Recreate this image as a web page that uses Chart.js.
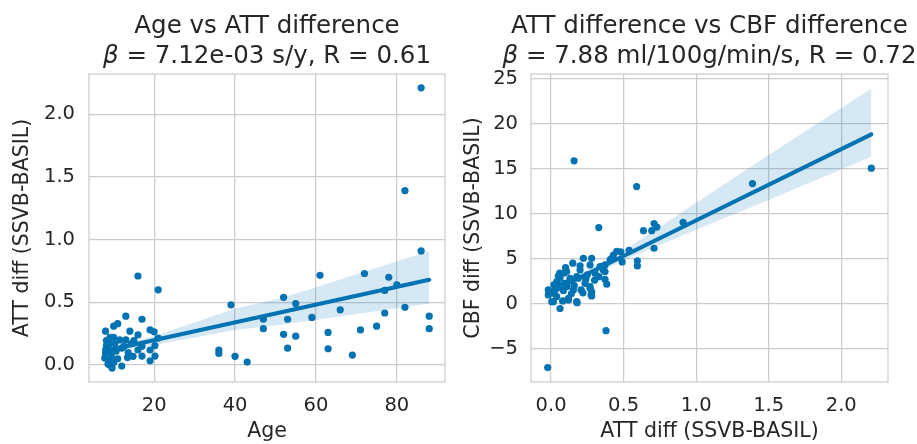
<!DOCTYPE html>
<html><head><meta charset="utf-8">
<script src="https://cdn.jsdelivr.net/npm/chart.js@4"></script>
<style>
html,body{margin:0;padding:0;background:#fff;}
#wrap{position:relative;width:917px;height:444px;overflow:hidden;background:#fff;}
.box{position:absolute;top:0;height:444px;}
</style></head><body>
<div id="wrap">
<div class="box" style="left:0;width:460px"><canvas id="c1"></canvas></div>
<div class="box" style="left:460px;width:457px"><canvas id="c2"></canvas></div>
</div>
<script>
// ---------- data ----------
const ages = [16,21,13,17,11,10,8,14,19,20,16,10,13,15,21,8.2,10.3,12,14.4,17,20.2,8.2,10,13.6,16,19,7.8,9.5,13.4,14.8,17,19,20.2,8.6,9.6,12,9.1,8.2,9.1,8,8.5,9,9.5,10.6,11,12.5,11.5,8,9,10,
  36,36,39,40,43,47,47,52,52,53,53,55,55,59,61,63,63,66,69,71,72,75,77,77,78,80,82,82,86,86,88,88];
const attVsAge = [0.71,0.60,0.39,0.365,0.33,0.31,0.27,0.27,0.28,0.265,0.24,0.22,0.20,0.195,0.215,0.155,0.17,0.135,0.17,0.15,0.155,0.115,0.115,0.10,0.12,0.12,0.056,0.06,0.06,0.07,0.072,0.034,0.072,0.008,-0.024,-0.008,0.034,0.195,0.22,0.09,0.14,0.17,0.10,0.11,0.05,0.15,0.2,0.12,0.0,0.02,
  0.12,0.093,0.48,0.07,0.024,0.365,0.29,0.54,0.245,0.365,0.135,0.49,0.23,0.38,0.715,0.26,0.13,0.44,0.08,0.28,0.73,0.31,0.415,0.595,0.70,0.64,0.46,1.39,2.21,0.91,0.39,0.29];

const attDiff = [0.159,0.59,0.329,0.379,-0.023,0.637,0.694,0.71,0.729,0.91,0.71,0.595,0.595,0.538,0.453,0.48,0.49,1.388,2.207,0.223,0.28,0.15,0.35,0.108,0.2,0.05,0.062,0.131,0.177,0.039,0.097,0.234,0.269,-0.019,0.028,0.085,0.154,0.28,-0.019,0.039,0.12,0.177,0.28,0.016,0.062,0.372,0.384,0.372,0.407,0.418,0.372,0.36,0.18,0.09,0.269,0.269,0.207,0.188,0.131,0.016,0.0,0.005,0.12,0.303,0.338,0.276,0.07,0.11,0.24,0.3,0.05,0.14,0.22,0.08,0.25,0.02,0.16,0.43,0.33,0.2,0.1,0.06];
const cbfDiff = [15.86,13.0,8.45,-3.0,-7.1,8.1,8.1,8.9,8.5,9.04,6.15,4.75,4.19,5.92,5.82,5.76,4.63,13.33,15.04,5.04,5.04,4.49,4.11,3.56,3.74,3.07,2.82,2.82,3.0,2.44,2.26,2.26,1.89,1.52,1.52,1.44,1.52,1.33,0.97,0.78,0.6,0.22,0.86,0.22,-0.55,2.71,2.16,3.56,4.86,5.04,4.3,3.74,0.11,3.4,4.3,1.71,1.52,2.82,2.63,1.16,1.3,0.22,0.41,3.38,4.11,0.97,2.0,1.9,2.7,2.6,1.8,1.1,1.2,0.3,3.2,2.1,2.0,5.4,3.0,4.2,4.0,3.4];

// regression lines and confidence bands
const fitAgeX = [7.8, 88];
const fitAgeY = [0.112, 0.68];
const bandAgeX = [7.8, 20, 40, 51, 60, 88];
const bandAgeUpper = [0.13, 0.23, 0.45, 0.53, 0.62, 0.91];
const bandAgeLower = [0.095, 0.16, 0.28, 0.32, 0.36, 0.49];

const fitAttX = [-0.023, 2.207];
const fitAttY = [1.16, 18.8];
const bandAttX = [-0.023, 0.25, 0.5, 0.75, 1.0, 1.5, 2.207];
const bandAttUpper = [1.6, 3.7, 5.9, 8.5, 11.2, 16.5, 23.9];
const bandAttLower = [0.7, 3.0, 4.8, 6.5, 8.2, 11.5, 16.3];

// ticks
const ticksAge = [20, 40, 60, 80];
const ticksAttLeft = [0, 0.5, 1, 1.5, 2];
const ticksAttRight = [0, 0.5, 1, 1.5, 2];
const ticksCbf = [-5, 0, 5, 10, 15, 20, 25];

// ---------- styling ----------
const BLUE = '#0173b2';
const BAND = 'rgba(1,115,178,0.16)';
const GRID = '#cccccc';
const TXT = '#262626';
const FONT = '"DejaVu Sans", sans-serif';
const TICK_FS = 19.5, LABEL_FS = 20.5, TITLE_FS = 24.5;

const zip = (xs, ys) => xs.map((x, i) => ({x, y: ys[i]}));

const framePlugin = {
  id: 'frame',
  afterDraw(chart) {
    const {ctx, chartArea: a} = chart;
    ctx.save();
    ctx.strokeStyle = GRID; ctx.lineWidth = 1.25;
    ctx.strokeRect(a.left, a.top, a.right - a.left, a.bottom - a.top);
    ctx.restore();
  }
};
const titlePlugin = {
  id: 'twoLineTitle',
  afterDraw(chart, args, opts) {
    const {ctx, chartArea: a} = chart;
    const cx = (a.left + a.right) / 2;
    ctx.save();
    ctx.fillStyle = TXT; ctx.textBaseline = 'alphabetic';
    const normal = `${TITLE_FS}px ${FONT}`, ital = `italic ${TITLE_FS}px ${FONT}`;
    ctx.font = normal; ctx.textAlign = 'center';
    ctx.fillText(opts.line1, cx, 33);
    ctx.textAlign = 'left';
    ctx.font = ital; const w1 = ctx.measureText('β').width;
    ctx.font = normal; const w2 = ctx.measureText(opts.line2).width;
    let x = cx - (w1 + w2) / 2;
    ctx.font = ital; ctx.fillText('β', x, 63);
    ctx.font = normal; ctx.fillText(opts.line2, x + w1, 63);
    ctx.restore();
  }
};

function axis(min, max, ticks, fmt, title, isX, pad, size, titlePad) {
  return {
    type: 'linear', min, max,
    afterBuildTicks: s => { s.ticks = ticks.map(v => ({value: v})); },
    afterFit: s => { if (isX) s.height = size; else s.width = size; },
    grid: {color: GRID, lineWidth: 1.25, drawTicks: false},
    border: {display: false},
    ticks: {color: TXT, font: {family: FONT, size: TICK_FS}, padding: pad, callback: v => fmt(v), maxRotation: 0, autoSkip: false},
    title: {display: true, text: title, color: TXT, font: {family: FONT, size: LABEL_FS}, padding: titlePad}
  };
}
const f1 = v => v.toFixed(1);
const f0 = v => (v < 0 ? '\u2212' + Math.abs(v) : String(v));

function makeChart(id, pts, fitX, fitY, bX, bU, bL, xScale, yScale, padRight, line1, line2) {
  new Chart(document.getElementById(id), {
    type: 'scatter',
    data: {datasets: [
      {data: pts, pointRadius: 3.6, pointHoverRadius: 3.6, backgroundColor: BLUE, borderWidth: 0, order: 3},
      {data: zip(bX, bL), showLine: true, pointRadius: 0, borderWidth: 0, borderColor: 'rgba(0,0,0,0)', fill: false, order: 2},
      {data: zip(bX, bU), showLine: true, pointRadius: 0, borderWidth: 0, borderColor: 'rgba(0,0,0,0)', backgroundColor: BAND, fill: '-1', order: 2},
      {data: zip(fitX, fitY), showLine: true, pointRadius: 0, borderWidth: 4, borderColor: BLUE, borderCapStyle: 'round', fill: false, order: 1}
    ]},
    options: {
      responsive: true, maintainAspectRatio: false, animation: false, devicePixelRatio: 1,
      layout: {padding: {top: 74, right: padRight, bottom: 0, left: 0}},
      scales: {x: xScale, y: yScale},
      plugins: {legend: {display: false}, tooltip: {enabled: false}, twoLineTitle: {line1, line2}}
    },
    plugins: [framePlugin, titlePlugin]
  });
}

makeChart('c1', zip(ages, attVsAge), fitAgeX, fitAgeY, bandAgeX, bandAgeUpper, bandAgeLower,
  axis(3.9, 91.9, ticksAge, f0, 'Age', true, 12, 62, {top: 0, bottom: 0}),
  axis(-0.135, 2.32, ticksAttLeft, f1, 'ATT diff (SSVB-BASIL)', false, 14, 89, {top: 10, bottom: 0}),
  15, 'Age vs ATT difference', ' = 7.12e-03 s/y, R = 0.61');

makeChart('c2', zip(attDiff, cbfDiff), fitAttX, fitAttY, bandAttX, bandAttUpper, bandAttLower,
  axis(-0.138, 2.322, ticksAttRight, f1, 'ATT diff (SSVB-BASIL)', true, 12, 62, {top: 0, bottom: 0}),
  axis(-8.7, 25.5, ticksCbf, f0, 'CBF diff (SSVB-BASIL)', false, 13, 71, {top: 1, bottom: 0}),
  29, 'ATT difference vs CBF difference', ' = 7.88 ml/100g/min/s, R = 0.72');
</script>
</body></html>
